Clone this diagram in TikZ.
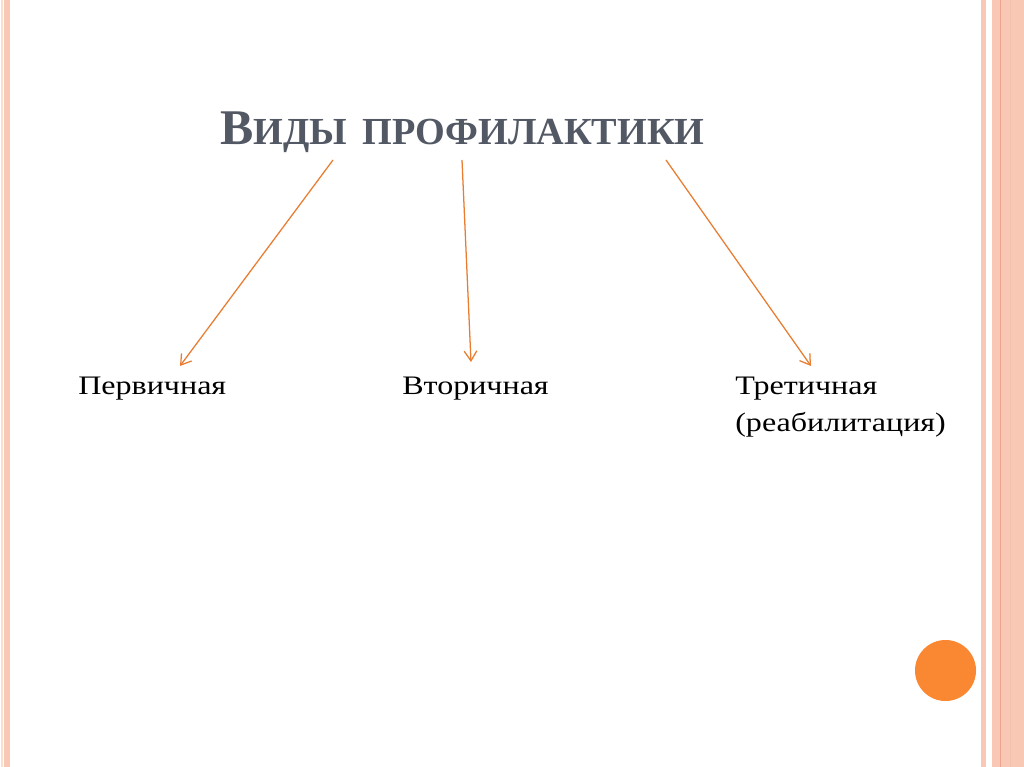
\documentclass[tikz,border=0pt]{standalone}
\usepackage{fontspec}
\setmainfont{Liberation Serif}
\newfontfamily\widefont[FakeStretch=1.2]{Liberation Serif}
\usetikzlibrary{arrows.meta, positioning, calc}
\definecolor{stripe}{RGB}{248,200,180}
\definecolor{stripedark}{RGB}{238,165,140}
\definecolor{titlegray}{RGB}{82,88,100}
\definecolor{arroworange}{RGB}{232,125,50}
\definecolor{dotorange}{RGB}{250,135,50}

\tikzset{
    kind/.style={anchor=base west, inner sep=0pt, align=left,
        font=\widefont\fontsize{19}{26}\selectfont},
    pointer/.style={draw=arroworange, line width=0.9pt,
        -{Straight Barb[length=7pt, width=9pt]}}
}

\begin{document}
\begin{tikzpicture}[x=0.025cm, y=-0.025cm]
    % page and side stripes
    \useasboundingbox (0,0) rectangle (1024,767);
    \fill[white] (0,0) rectangle (1024,767);
    \fill[stripe] (4,0) rectangle (10,767);
    \fill[stripe!60] (1,0) rectangle (3,767);
    \fill[stripe] (981,0) rectangle (986,767);
    \fill[stripe] (992,0) rectangle (1024,767);
    \fill[stripedark] (999.5,0) rectangle (1000.5,767);
    \fill[stripedark!70] (1010,0) rectangle (1011,767);

    \node[anchor=base west, inner sep=0pt, text=titlegray] (title) at (220,145)
        {\bfseries\fontsize{35.5}{40}\selectfont В\fontsize{27.2}{32}\selectfont ИДЫ\hspace{4pt} ПРОФИЛАКТИКИ};

    \node[kind] (perv) at (78,394) {Первичная};
    \node[kind] (vtor) at (402,394) {Вторичная};
    \node[kind] (tret) at (735,431) {Третичная\\(реабилитация)};

    \coordinate (a1) at (333,160);
    \coordinate (a2) at (462,160);
    \coordinate (a3) at (666,160);
    \coordinate (b1) at (180,366);
    \coordinate (b2) at (471,362);
    \coordinate (b3) at (811,366);

    \draw[pointer] (a1) -- (b1);
    \draw[pointer] (a2) -- (b2);
    \draw[pointer] (a3) -- (b3);

    \fill[dotorange] (945.5,670.5) circle (30.5);
\end{tikzpicture}
\end{document}
